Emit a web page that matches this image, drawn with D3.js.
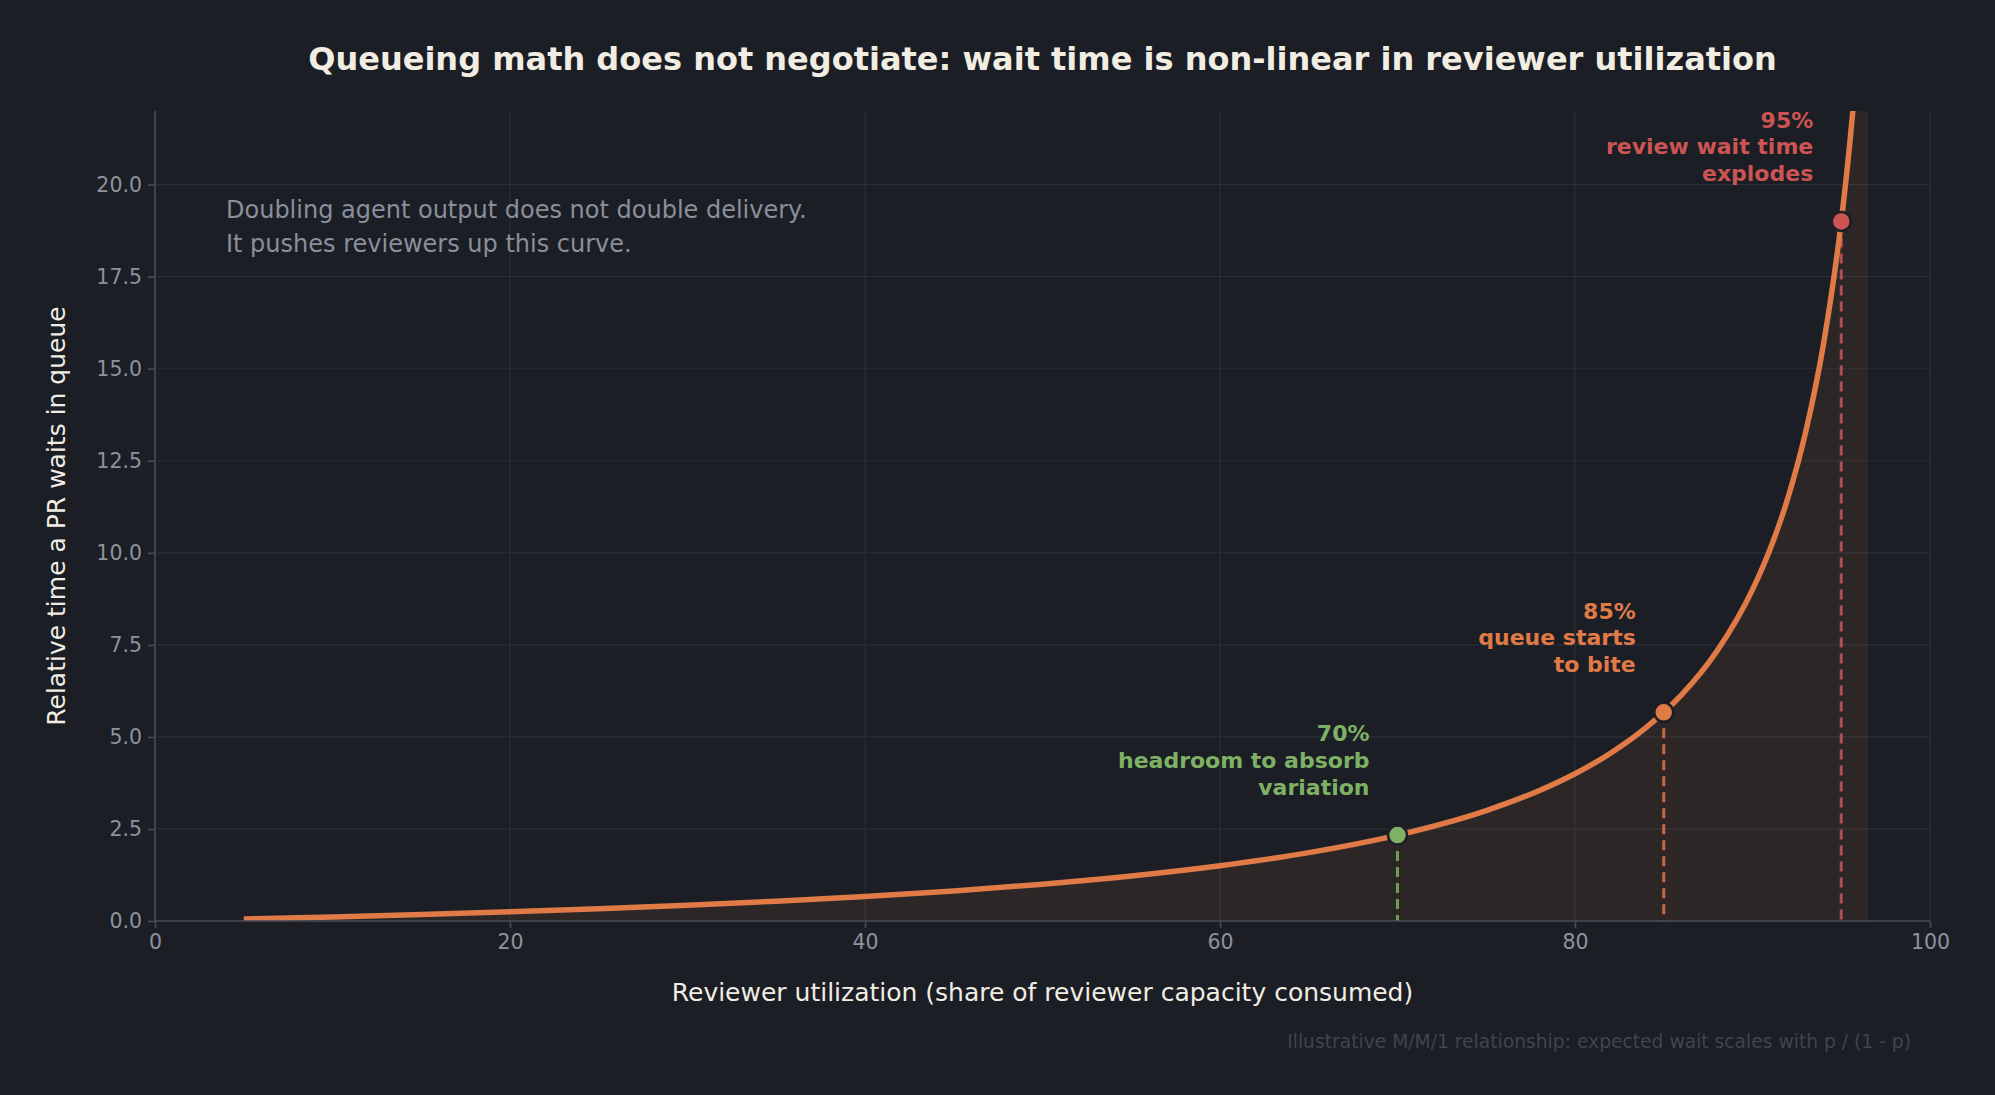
<!DOCTYPE html>
<html>
<head>
<meta charset="utf-8">
<script src="https://cdn.jsdelivr.net/npm/d3@7"></script>
<style>
  html, body { margin: 0; padding: 0; background: #1b1e25; }
  svg { display: block; }
  text { font-family: "DejaVu Sans", sans-serif; }
</style>
</head>
<body>
<svg id="chart" width="1995" height="1095"></svg>
<script>
// ---- data ----
const utilization = [5, 10, 15, 20, 25, 30, 35, 40, 45, 50, 55, 60, 65, 70, 75, 78, 80, 82, 84, 85, 86, 88, 90, 91, 92, 93, 94, 95, 95.5, 96, 96.5];
const waitTime    = [0.053, 0.111, 0.176, 0.25, 0.333, 0.429, 0.538, 0.667, 0.818, 1.0, 1.222, 1.5, 1.857, 2.333, 3.0, 3.545, 4.0, 4.556, 5.25, 5.667, 6.143, 7.333, 9.0, 10.11, 11.5, 13.29, 15.67, 19.0, 21.22, 24.0, 27.57];

const markerX      = [70, 85, 95];
const markerY      = [2.333, 5.667, 19.0];
const markerTitles = ["70%", "85%", "95%"];
const markerLines  = [["headroom to absorb", "variation"], ["queue starts", "to bite"], ["review wait time", "explodes"]];
const markerColors = ["#7fb164", "#e07a47", "#cc5452"];

const xTicks = [0, 20, 40, 60, 80, 100];
const yTicks = [0, 2.5, 5, 7.5, 10, 12.5, 15, 17.5, 20];

const titleText = "Queueing math does not negotiate: wait time is non-linear in reviewer utilization";
const xLabel = "Reviewer utilization (share of reviewer capacity consumed)";
const yLabel = "Relative time a PR waits in queue";
const noteLines = ["Doubling agent output does not double delivery.", "It pushes reviewers up this curve."];
const footnote = "Illustrative M/M/1 relationship: expected wait scales with p / (1 - p)";

(function () {
// ---- layout ----
const bg = "#1b1e25";
const curveColor = "#e07a47";
const pLeft = 155, pRight = 1930, pTop = 111, pBottom = 921;

const svg = d3.select("#chart");
svg.append("rect").attr("width", 1995).attr("height", 1095).attr("fill", bg);

const x = d3.scaleLinear().domain([0, 100]).range([pLeft, pRight]);
const y = d3.scaleLinear().domain([0, 22]).range([pBottom, pTop]);

svg.append("defs").append("clipPath").attr("id", "clip")
  .append("rect").attr("x", pLeft).attr("y", pTop).attr("width", pRight - pLeft).attr("height", pBottom - pTop);

// grid
const grid = svg.append("g");
grid.selectAll("line.vx").data(xTicks).join("line")
  .attr("x1", d => x(d)).attr("x2", d => x(d)).attr("y1", pTop).attr("y2", pBottom)
  .attr("stroke", "#2b2e37").attr("stroke-width", 1.2);
grid.selectAll("line.hy").data(yTicks).join("line")
  .attr("x1", pLeft).attr("x2", pRight).attr("y1", d => y(d)).attr("y2", d => y(d))
  .attr("stroke", "#2b2e37").attr("stroke-width", 1.2);

const pts = utilization.map((u, i) => [u, waitTime[i]]);
const plot = svg.append("g").attr("clip-path", "url(#clip)");

// area fill
plot.append("path").datum(pts)
  .attr("d", d3.area().x(d => x(d[0])).y0(y(0)).y1(d => y(d[1])).curve(d3.curveMonotoneX))
  .attr("fill", curveColor).attr("fill-opacity", 0.09);

// dashed drop lines
markerX.forEach((mx, i) => {
  plot.append("line")
    .attr("x1", x(mx)).attr("x2", x(mx)).attr("y1", y(markerY[i])).attr("y2", y(0))
    .attr("stroke", markerColors[i]).attr("stroke-width", 3).attr("stroke-opacity", 0.85)
    .attr("stroke-dasharray", "10,6");
});

// curve
plot.append("path").datum(pts)
  .attr("d", d3.line().x(d => x(d[0])).y(d => y(d[1])).curve(d3.curveMonotoneX))
  .attr("fill", "none").attr("stroke", curveColor).attr("stroke-width", 5.5)
  .attr("stroke-linecap", "butt");

// axes
const xAxis = svg.append("g").attr("transform", `translate(0,${pBottom})`)
  .call(d3.axisBottom(x).tickValues(xTicks).tickSize(7).tickPadding(6).tickFormat(d3.format("d")));
const yAxis = svg.append("g").attr("transform", `translate(${pLeft},0)`)
  .call(d3.axisLeft(y).tickValues(yTicks).tickSize(7).tickPadding(6).tickFormat(d3.format(".1f")));
[xAxis, yAxis].forEach(a => {
  a.select(".domain").attr("stroke", "#474b57").attr("stroke-width", 1.6);
  a.selectAll(".tick line").attr("stroke", "#474b57").attr("stroke-width", 1.6);
  a.selectAll(".tick text").attr("fill", "#8d929e").attr("font-size", 20.5)
    .attr("font-family", "DejaVu Sans, sans-serif");
});
yAxis.select(".domain").attr("d", `M0,${pTop}V${pBottom}`);
xAxis.select(".domain").attr("d", `M${pLeft},0H${pRight}`);

// markers
markerX.forEach((mx, i) => {
  svg.append("circle").attr("cx", x(mx)).attr("cy", y(markerY[i])).attr("r", 9.5)
    .attr("fill", markerColors[i]).attr("stroke", bg).attr("stroke-width", 2.5);
  const lines = [markerTitles[i]].concat(markerLines[i]);
  const n = lines.length;
  lines.forEach((t, j) => {
    svg.append("text")
      .attr("x", x(mx) - 28)
      .attr("y", y(markerY[i]) - 48 - (n - 1 - j) * 26.7)
      .attr("dy", "0.35em")
      .attr("text-anchor", "end")
      .attr("font-size", 22).attr("font-weight", "bold")
      .attr("fill", markerColors[i]).text(t);
  });
});

// note
noteLines.forEach((t, j) => {
  svg.append("text").attr("x", 226).attr("y", 210 + j * 34).attr("dy", "0.35em")
    .attr("font-size", 24).attr("fill", "#8a8f9b").text(t);
});

// title
svg.append("text").attr("x", (pLeft + pRight) / 2).attr("y", 59).attr("dy", "0.35em")
  .attr("text-anchor", "middle").attr("font-size", 32).attr("font-weight", "bold")
  .attr("fill", "#f1ede3").text(titleText);

// axis labels
svg.append("text").attr("x", (pLeft + pRight) / 2).attr("y", 992).attr("dy", "0.35em")
  .attr("text-anchor", "middle").attr("font-size", 25).attr("fill", "#f1ede3").text(xLabel);
svg.append("text").attr("transform", `translate(56,${(pTop + pBottom) / 2}) rotate(-90)`)
  .attr("dy", "0.35em").attr("text-anchor", "middle").attr("font-size", 25)
  .attr("fill", "#f1ede3").text(yLabel);

// footnote
svg.append("text").attr("x", 1911).attr("y", 1041).attr("dy", "0.35em")
  .attr("text-anchor", "end").attr("font-size", 18.7).attr("fill", "#3f4450").text(footnote);
})();
</script>
</body>
</html>
